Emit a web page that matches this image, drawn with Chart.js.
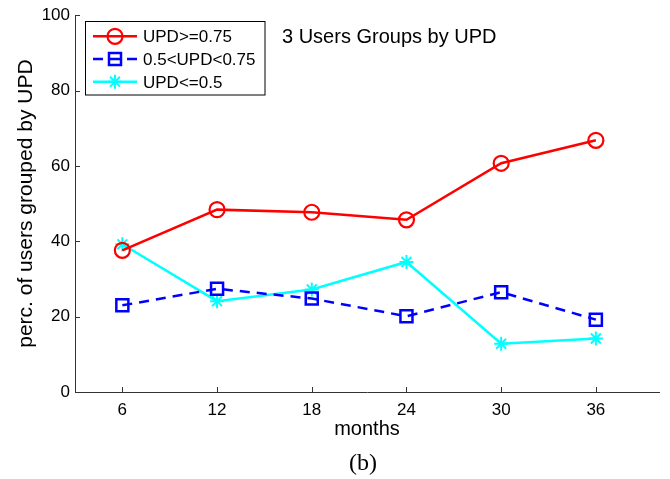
<!DOCTYPE html>
<html>
<head>
<meta charset="utf-8">
<script src="https://cdn.jsdelivr.net/npm/chart.js@4/dist/chart.umd.min.js"></script>
<style>
  html, body { margin: 0; padding: 0; background: #ffffff; }
  #wrap { width: 670px; height: 479px; }
</style>
</head>
<body>
<div id="wrap"><canvas id="c" width="670" height="479"></canvas></div>
<script>
// Share of users in each UPD group, by account age in months
const months = [6, 12, 18, 24, 30, 36];
const updHigh = [37.6, 48.4, 47.7, 45.7, 60.7, 66.8];
const updMid = [23.0, 27.4, 24.8, 20.1, 26.5, 19.2];
const updLow = [39.2, 24.1, 27.2, 34.5, 12.8, 14.2];
const yTicks = [0, 20, 40, 60, 80, 100];
const seriesLabels = ['UPD>=0.75', '0.5<UPD<0.75', 'UPD<=0.5'];
const plotTitle = '3 Users Groups by UPD';
const xTitle = 'months';
const yTitle = 'perc. of users grouped by UPD';
const caption = '(b)';

const SANS = '"Liberation Sans", Arial, Helvetica, sans-serif';
const SERIF = '"Liberation Serif", "Times New Roman", serif';

const toPoints = (vals) => vals.map((v, i) => ({ x: months[i], y: v }));

// MATLAB-style inward tick marks, in-axes title, boxed legend and caption
const decorations = {
  id: 'decorations',
  afterDraw(chart) {
    const ctx = chart.ctx;
    const area = chart.chartArea;
    const xs = chart.scales.x, ys = chart.scales.y;
    ctx.save();
    ctx.strokeStyle = '#333333';
    ctx.lineWidth = 1;
    ctx.beginPath();
    months.forEach(m => {
      const px = Math.round(xs.getPixelForValue(m)) + 0.5;
      ctx.moveTo(px, area.bottom);
      ctx.lineTo(px, area.bottom - 5);
    });
    yTicks.forEach(t => {
      const py = Math.round(ys.getPixelForValue(t)) + 0.5;
      ctx.moveTo(area.left, py);
      ctx.lineTo(area.left + 5, py);
    });
    ctx.stroke();

    // title inside the axes
    ctx.fillStyle = '#000000';
    ctx.font = '20px ' + SANS;
    ctx.textAlign = 'left';
    ctx.textBaseline = 'alphabetic';
    ctx.fillText(plotTitle, 282, 42.5);

    // legend box
    const bx = 85.5, by = 21.5, bw = 179.5, bh = 73.5;
    ctx.fillStyle = '#ffffff';
    ctx.fillRect(bx, by, bw, bh);
    ctx.strokeStyle = '#000000';
    ctx.lineWidth = 1;
    ctx.strokeRect(bx, by, bw, bh);
    const rowY = [36.3, 59, 81.7];
    chart.data.datasets.forEach((ds, i) => {
      const y = rowY[i];
      ctx.save();
      ctx.strokeStyle = ds.borderColor;
      ctx.lineWidth = ds.borderWidth;
      ctx.setLineDash(ds.borderDash || []);
      ctx.beginPath();
      ctx.moveTo(93, y);
      ctx.lineTo(137, y);
      ctx.stroke();
      ctx.restore();
      const opts = {
        pointStyle: ds.pointStyle,
        radius: ds.pointRadius,
        borderWidth: ds.pointBorderWidth,
        rotation: 0
      };
      ctx.save();
      ctx.strokeStyle = ds.pointBorderColor;
      ctx.fillStyle = 'rgba(0,0,0,0)';
      ctx.lineWidth = ds.pointBorderWidth;
      Chart.helpers.drawPoint(ctx, opts, 115, y);
      ctx.restore();
      ctx.fillStyle = '#000000';
      ctx.font = '17px ' + SANS;
      ctx.textAlign = 'left';
      ctx.textBaseline = 'alphabetic';
      ctx.fillText(ds.label, 143, y + 6);
    });

    // figure caption
    ctx.fillStyle = '#000000';
    ctx.font = '24px ' + SERIF;
    ctx.textAlign = 'center';
    ctx.fillText(caption, 363, 470);
    ctx.restore();
  }
};

new Chart(document.getElementById('c'), {
  type: 'line',
  data: {
    datasets: [
      {
        label: seriesLabels[0],
        data: toPoints(updHigh),
        borderColor: '#ff0000',
        borderWidth: 2.5,
        pointStyle: 'circle',
        pointRadius: 7.5,
        pointBorderWidth: 2.2,
        pointBorderColor: '#ff0000',
        pointBackgroundColor: 'rgba(0,0,0,0)',
        tension: 0
      },
      {
        label: seriesLabels[1],
        data: toPoints(updMid),
        borderColor: '#0000ff',
        borderWidth: 2.5,
        borderDash: [10, 7],
        pointStyle: 'rect',
        pointRadius: 8.5,
        pointBorderWidth: 2.5,
        pointBorderColor: '#0000ff',
        pointBackgroundColor: 'rgba(0,0,0,0)',
        tension: 0
      },
      {
        label: seriesLabels[2],
        data: toPoints(updLow),
        borderColor: '#00ffff',
        borderWidth: 2.5,
        pointStyle: 'star',
        pointRadius: 7,
        pointBorderWidth: 2,
        pointBorderColor: '#00ffff',
        pointBackgroundColor: 'rgba(0,0,0,0)',
        tension: 0
      }
    ]
  },
  options: {
    responsive: false,
    devicePixelRatio: 1,
    animation: false,
    layout: { padding: { left: 0, right: 10, top: 15, bottom: 0 } },
    plugins: {
      legend: { display: false },
      title: { display: false },
      tooltip: { enabled: false }
    },
    scales: {
      x: {
        type: 'linear',
        min: 3,
        max: 40,
        afterBuildTicks(scale) { scale.ticks = months.map(v => ({ value: v })); },
        afterFit(scale) { scale.height = 87; },
        grid: { display: true, drawOnChartArea: false, drawTicks: false, color: 'rgba(0,0,0,0)' },
        border: { display: true, color: '#333333', width: 1 },
        ticks: {
          color: '#000000',
          font: { family: SANS, size: 17 },
          padding: 8,
          maxRotation: 0,
          autoSkip: false,
          callback: (v) => String(v)
        },
        title: {
          display: true,
          text: xTitle,
          color: '#000000',
          font: { family: SANS, size: 20 },
          padding: { top: 0, bottom: 38 }
        }
      },
      y: {
        min: 0,
        max: 100,
        afterBuildTicks(scale) { scale.ticks = yTicks.map(v => ({ value: v })); },
        afterFit(scale) { scale.width = 75; },
        grid: { display: true, drawOnChartArea: false, drawTicks: false, color: 'rgba(0,0,0,0)' },
        border: { display: true, color: '#333333', width: 1 },
        ticks: {
          color: '#000000',
          font: { family: SANS, size: 17 },
          padding: 5,
          autoSkip: false,
          callback: (v) => String(v)
        },
        title: {
          display: true,
          text: yTitle,
          color: '#000000',
          font: { family: SANS, size: 21 },
          padding: { top: 14, bottom: 0 }
        }
      }
    }
  },
  plugins: [decorations]
});
</script>
</body>
</html>
